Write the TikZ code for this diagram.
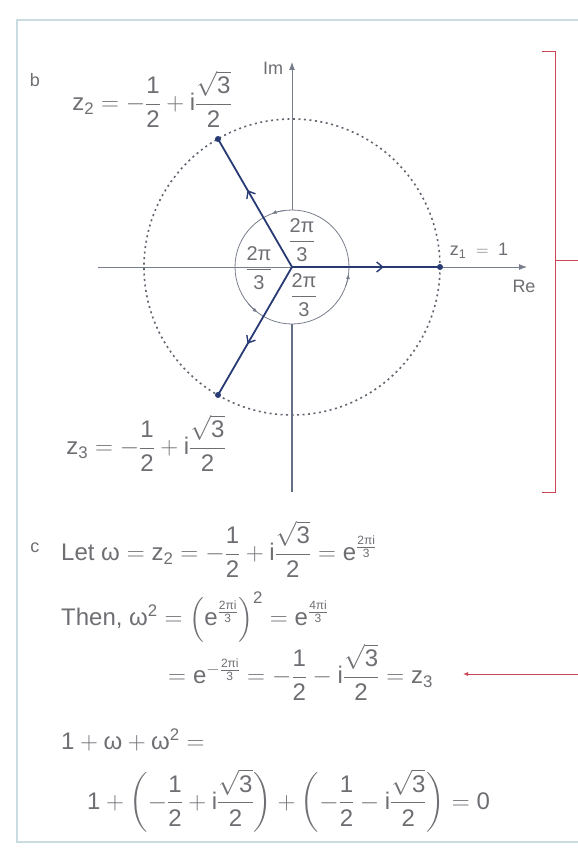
\documentclass[tikz,border=0pt]{standalone}
\usepackage{amsmath}
\usepackage{fontspec}
\setmainfont{Liberation Sans}
\usetikzlibrary{arrows.meta,decorations.markings,calc}
\newcommand{\sv}[1]{\text{#1}}
\newcommand{\half}{\dfrac{\sv{1}}{\sv{2}}}
\newcommand{\rtt}{\dfrac{\sqrt{\sv{3}}}{\sv{2}}}
\newcommand{\tpt}{\dfrac{\sv{2π}}{\sv{3}}}
\definecolor{txtc}{RGB}{110,110,115}
\definecolor{axisc}{RGB}{120,125,140}
\definecolor{rayc}{RGB}{40,58,115}
\definecolor{thickc}{RGB}{100,110,132}
\definecolor{dashc}{RGB}{95,100,110}
\definecolor{redc}{RGB}{200,70,85}
\definecolor{framec}{RGB}{200,220,226}
\begin{document}
\begin{tikzpicture}[x=1pt,y=-1pt,
  txt/.style={text=txtc, inner sep=0pt, font=\fontsize{24}{28}\selectfont},
  ang/.style={text=txtc, inner sep=0pt, font=\fontsize{20}{24}\selectfont},
  small/.style={text=txtc, inner sep=0pt, font=\fontsize{18}{22}\selectfont},
  axis/.style={draw=axisc, line width=0.9pt},
  ray/.style={draw=rayc, line width=1.8pt, postaction={decorate, decoration={markings, mark=at position #1 with {\arrow{Straight Barb[length=6pt,width=10pt,line width=1.4pt]}}}}},
  pt/.style={fill=rayc, draw=none},
  angtip/.style={draw=axisc, line width=0.8pt, -{Latex[length=5pt,width=4pt]}},
  redline/.style={draw=redc, line width=1pt}]
\useasboundingbox (0,0) rectangle (578,851);
% frame
\draw[framec, line width=1.6pt] (578,20) -- (17,20) -- (17,842) -- (578,842);
% coordinates
\coordinate (O) at (292,267);
\coordinate (Z1) at (440,267);
\coordinate (Z2) at (218,139);
\coordinate (Z3) at (218,395);
% dashed circle
\draw[dashc, line width=1.6pt, dash pattern=on 2pt off 3.5pt] (O) circle[radius=148];
% axes
\coordinate (ReL) at (98,267);
\coordinate (ReR) at (527,267);
\draw[axis,-{Latex[length=8pt,width=6pt]}] (ReL) -- (ReR);
\coordinate (ImC) at (292,210);
\coordinate (ImT) at (292,62);
\draw[axis,-{Latex[length=8pt,width=6pt]}] (ImC) -- (ImT);
\coordinate (ImB1) at (292,324);
\coordinate (ImB2) at (292,492);
\draw[thickc, line width=2.4pt] (ImB1) -- (ImB2);
% small circle
\draw[axisc, line width=0.8pt] (O) circle[radius=57];
\draw[angtip] ($(O)+(-98:57)$) arc[start angle=-98, end angle=-111, radius=57];
\draw[angtip] ($(O)+(-220:57)$) arc[start angle=-220, end angle=-233, radius=57];
\draw[angtip] ($(O)+(20:57)$) arc[start angle=20, end angle=7, radius=57];
% rays
\draw[ray=0.62] (O) -- (Z1);
\draw[ray=0.6] (O) -- (Z2);
\draw[ray=0.6] (O) -- (Z3);
\fill[pt] (Z1) circle[radius=3];
\fill[pt] (Z2) circle[radius=3];
\fill[pt] (Z3) circle[radius=3];
% labels part b
\node[small] (lb) at (35,80) {b};
\node[small] (lim) at (273,68) {Im};
\node[small] (lre) at (524,286) {Re};
\node[small] (lz1) at (479,251) {$\sv{z}_{\sv{1}}\;=\;\sv{1}$};
\node[txt] (lz2) at (152,99) {$\sv{z}_{\sv{2}}=-\half+\sv{i}\rtt$};
\node[txt] (lz3) at (146,443) {$\sv{z}_{\sv{3}}=-\half+\sv{i}\rtt$};
\node[ang] (a1) at (302,240) {$\tpt$};
\node[ang] (a2) at (259,268) {$\tpt$};
\node[ang] (a3) at (304,295) {$\tpt$};
% red bracket
\coordinate (BT) at (542,52);
\coordinate (BTr) at (555,52);
\coordinate (BBr) at (555,492);
\coordinate (BB) at (542,492);
\coordinate (BM) at (555,260);
\coordinate (BE) at (578,260);
\draw[redline] (BT) -- (BTr) -- (BBr) -- (BB);
\draw[redline] (BM) -- (BE);
% part c
\node[small] (lc) at (35,548) {c};
\node[txt, anchor=west] (c1) at (61,549) {Let $\sv{ω}=\sv{z}_{\sv{2}}=-\half+\sv{i}\rtt=\sv{e}^{\frac{\sv{2πi}}{\sv{3}}}$};
\node[txt, anchor=west] (c2) at (61,617) {Then, $\sv{ω}^{\sv{2}}=\left(\sv{e}^{\frac{\sv{2πi}}{\sv{3}}}\right)^{\sv{2}}=\sv{e}^{\frac{\sv{4πi}}{\sv{3}}}$};
\node[txt, anchor=west] (c3) at (168,672) {$=\sv{e}^{-\frac{\sv{2πi}}{\sv{3}}}=-\half-\sv{i}\rtt=\sv{z}_{\sv{3}}$};
\node[txt, anchor=west] (c4) at (61,740) {$\sv{1}+\sv{ω}+\sv{ω}^{\sv{2}}=$};
\node[txt, anchor=west] (c5) at (87,801) {$\sv{1}+\biggl(-\half+\sv{i}\rtt\biggr)+\biggl(-\half-\sv{i}\rtt\biggr)=\sv{0}$};
\coordinate (RA) at (578,674);
\coordinate (RB) at (463,674);
\draw[redline, -{Latex[length=5pt,width=4pt]}] (RA) -- (RB);
\end{tikzpicture}
\end{document}
